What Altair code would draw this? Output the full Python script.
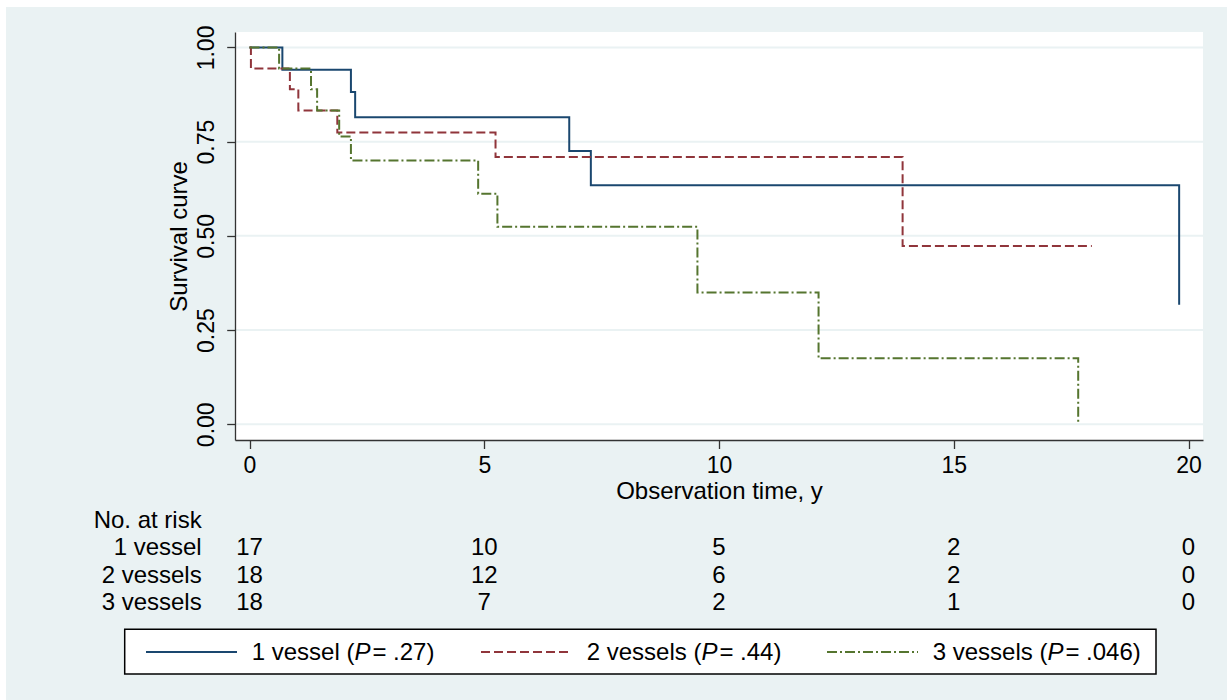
import altair as alt
import pandas as pd

# ---------------- data ----------------
groups = ["1 vessel", "2 vessels", "3 vessels"]
colors = ["#1A476F", "#90353B", "#55752F"]
p_values = [".27", ".44", ".046"]

time_1 = [0, 0.70, 2.16, 2.25, 6.81, 7.27, 19.80]
surv_1 = [1.0, 0.941, 0.882, 0.815, 0.725, 0.634, 0.317]
time_2 = [0, 0.03, 0.86, 1.04, 1.87, 5.24, 13.91, 17.94]
surv_2 = [1.0, 0.944, 0.889, 0.833, 0.774, 0.709, 0.473, 0.473]
time_3 = [0, 0.63, 1.31, 1.44, 1.91, 2.16, 4.87, 5.28, 9.54, 12.12, 17.65]
surv_3 = [1.0, 0.944, 0.889, 0.833, 0.764, 0.700, 0.612, 0.524, 0.350, 0.175, 0.0]

risk_times = [0, 5, 10, 15, 20]
risk_1 = [17, 10, 5, 2, 0]
risk_2 = [18, 12, 6, 2, 0]
risk_3 = [18, 7, 2, 1, 0]

x_ticks = [0, 5, 10, 15, 20]
y_ticks = [0, 0.25, 0.5, 0.75, 1.0]

# ---------------- layout / style ----------------
W, H = 968, 408
PAD_L, PAD_T = 235, 32
BG = "#EAF2F3"
GRID = "#EAF2F3"
AXC = "#333333"
FONT = "Liberation Sans"
FS = 24
FS_TICK = 23
dashes = [[1, 0], [9, 4], [10, 3, 2, 3]]

xscale = alt.Scale(domain=[-0.309, 20.308], nice=False, zero=False)
yscale = alt.Scale(domain=[-0.0417, 1.041], nice=False, zero=False)
rowscale = alt.Scale(domain=[0, 3], range=[495.8, 578], nice=False, zero=False)

one = pd.DataFrame({"k": [0]})

curve_rows = []
for g, ts, ss in zip(groups, [time_1, time_2, time_3], [surv_1, surv_2, surv_3]):
    for i, (t, s) in enumerate(zip(ts, ss)):
        curve_rows.append({"group": g, "time": t, "surv": s, "i": i})
curve_df = pd.DataFrame(curve_rows)

risk_rows = []
for r, (g, ns) in enumerate(zip(groups, [risk_1, risk_2, risk_3]), start=1):
    for t, n in zip(risk_times, ns):
        risk_rows.append({"group": g, "time": t, "n": n, "row": r})
risk_df = pd.DataFrame(risk_rows)
label_df = pd.DataFrame({"label": ["No. at risk"] + groups, "row": [0, 1, 2, 3]})

# ---------------- layers ----------------
bg = alt.Chart(one).mark_rect(color=BG).encode(
    x=alt.value(6 - PAD_L), x2=alt.value(1227 - PAD_L),
    y=alt.value(7 - PAD_T), y2=alt.value(700 - PAD_T))

plot_bg = alt.Chart(one).mark_rect(color="white").encode(
    x=alt.value(0), x2=alt.value(W), y=alt.value(0), y2=alt.value(H))

grid = alt.Chart(pd.DataFrame({"v": y_ticks})).mark_rule(
    color=GRID, strokeWidth=2).encode(
    y=alt.Y("v:Q", scale=yscale, axis=None),
    x=alt.value(0), x2=alt.value(W))

curves = alt.Chart(curve_df).mark_line(
    interpolate="step-after", strokeWidth=2).encode(
    x=alt.X("time:Q", scale=xscale, axis=alt.Axis(
        values=x_ticks, format="d", title="Observation time, y", grid=False,
        domainColor=AXC, domainWidth=1.3, tickColor=AXC, tickWidth=1.3,
        tickSize=8.5, labelFont=FONT, labelFontSize=FS_TICK, labelColor="black",
        labelBaseline="alphabetic", labelPadding=23.8, labelFlush=False,
        titleFont=FONT, titleFontSize=FS, titleFontWeight="normal",
        titleColor="black", titleBaseline="alphabetic", titleY=58.5, zindex=1)),
    y=alt.Y("surv:Q", scale=yscale, axis=alt.Axis(
        values=y_ticks, format=".2f", title="Survival curve", grid=False,
        domainColor=AXC, domainWidth=1.3, tickColor=AXC, tickWidth=1.3,
        tickSize=8.3, labelFont=FONT, labelFontSize=FS_TICK, labelColor="black",
        labelAngle=270, labelAlign="center", labelBaseline="alphabetic",
        labelPadding=13.4, labelFlush=False,
        titleFont=FONT, titleFontSize=FS, titleFontWeight="normal",
        titleColor="black", titleAngle=270, titleBaseline="alphabetic",
        titleX=-48.3, zindex=1)),
    color=alt.Color("group:N", scale=alt.Scale(domain=groups, range=colors), legend=None),
    strokeDash=alt.StrokeDash("group:N", scale=alt.Scale(domain=groups, range=dashes), legend=None),
    order="i:Q")

risk_nums = alt.Chart(risk_df).mark_text(
    font=FONT, fontSize=FS, align="center", baseline="alphabetic", color="black").encode(
    x=alt.X("time:Q", scale=xscale, axis=None),
    y=alt.Y("row:Q", scale=rowscale, axis=None),
    text="n:Q")

risk_labels = alt.Chart(label_df).mark_text(
    font=FONT, fontSize=FS, align="right", baseline="alphabetic", color="black").encode(
    x=alt.value(201.7 - PAD_L),
    y=alt.Y("row:Q", scale=rowscale, axis=None),
    text="label:N")

# ---------------- legend ----------------
ADV = {'1': 556, '2': 556, '3': 556, '4': 556, '6': 556, '7': 556, '0': 556,
       ' ': 278, 'v': 500, 'e': 556, 's': 500, 'l': 222, '(': 333, ')': 333,
       '=': 584, '.': 278, 'P': 667}


def tw(s, fs):
    return sum(ADV.get(c, 556) for c in s) / 1000.0 * fs


legend_layers = [alt.Chart(one).mark_rect(fill="white", stroke="black", strokeWidth=1.5).encode(
    x=alt.value(124.7 - PAD_L), x2=alt.value(1156 - PAD_L),
    y=alt.value(629.3 - PAD_T), y2=alt.value(674 - PAD_T))]

item_starts = [146, 481, 827]
LINE_LEN = 91
TEXT_OFF = 105.7
LEG_Y = 652 - PAD_T
LEG_BASE = 659.5 - PAD_T
for g, c, d, p, xs in zip(groups, colors, dashes, p_values, item_starts):
    x0 = xs - PAD_L
    legend_layers.append(alt.Chart(one).mark_rule(color=c, strokeWidth=2, strokeDash=d).encode(
        x=alt.value(x0), x2=alt.value(x0 + LINE_LEN), y=alt.value(LEG_Y)))
    pre = g + " ("
    suf = "= " + p + ")"
    tx = x0 + TEXT_OFF
    px = tx + tw(pre, FS)
    sx = px + tw("P", FS) + 2
    for txt, xx, style in [(pre, tx, "normal"), ("P", px, "italic"), (suf, sx, "normal")]:
        legend_layers.append(alt.Chart(one).mark_text(
            text=txt, font=FONT, fontSize=FS, fontStyle=style, align="left",
            baseline="alphabetic", color="black").encode(
            x=alt.value(xx), y=alt.value(LEG_BASE)))

chart = alt.layer(bg, plot_bg, grid, curves, risk_nums, risk_labels, *legend_layers).resolve_scale(
    y="independent").resolve_axis(x="independent").properties(
    width=W, height=H,
    autosize=alt.AutoSizeParams(type="none"),
    padding={"left": PAD_L, "top": PAD_T, "right": 1227 - PAD_L - W, "bottom": 700 - PAD_T - H},
    background="white",
).configure_view(stroke="transparent")

chart.save("out.html", embed_options={"renderer": "svg", "actions": False})
